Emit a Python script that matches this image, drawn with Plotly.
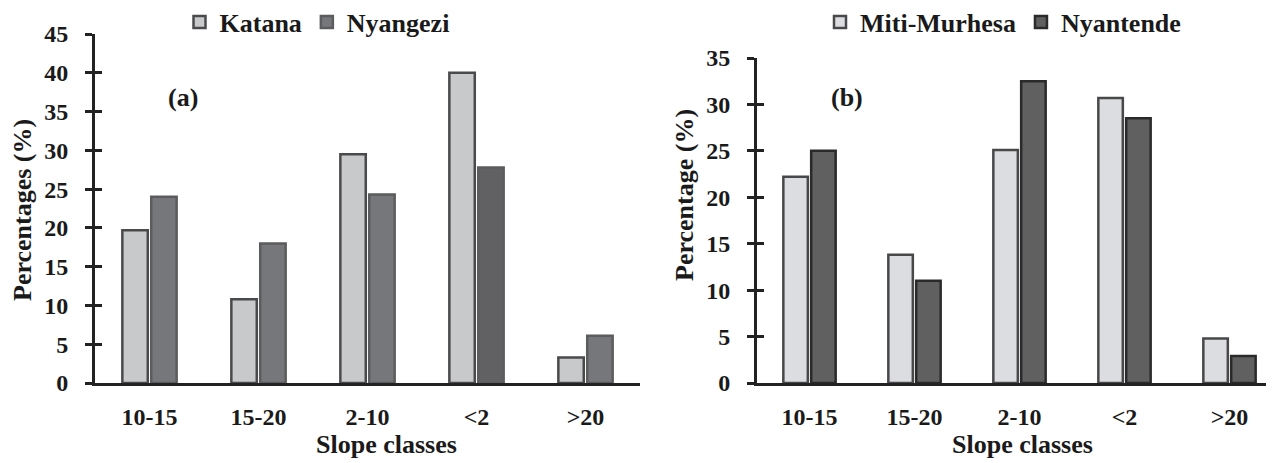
import plotly.graph_objects as go

categories = ["10-15", "15-20", "2-10", "<2", ">20"]
katana = [19.7, 10.8, 29.5, 40.0, 3.3]
nyangezi = [24.0, 18.0, 24.3, 27.8, 6.1]
miti = [22.2, 13.8, 25.1, 30.7, 4.8]
nyantende = [25.0, 11.0, 32.5, 28.5, 2.9]
ticks_a = [0, 5, 10, 15, 20, 25, 30, 35, 40, 45]
ticks_b = [0, 5, 10, 15, 20, 25, 30, 35]

W, H = 1274, 463
OFF = 8  # page body margin offset
FONT = "Liberation Serif, Times New Roman, serif"
def px(x): return (x - OFF) / W
def py(y): return (H - (y - OFF)) / H

fig = go.Figure()
nyangezi_colors = ["#76777b", "#76777b", "#76777b", "#616163", "#76777b"]
fig.add_trace(go.Bar(x=categories, y=katana, name="Katana", xaxis="x", yaxis="y",
                     marker=dict(color="#c8c9cb", line=dict(color="#4a4a4c", width=2.5)),
                     legend="legend"))
fig.add_trace(go.Bar(x=categories, y=nyangezi, name="Nyangezi", xaxis="x", yaxis="y",
                     marker=dict(color=nyangezi_colors, line=dict(color="#5c5c5e", width=2.5)),
                     legend="legend"))
fig.add_trace(go.Bar(x=categories, y=miti, name="Miti-Murhesa", xaxis="x2", yaxis="y2",
                     marker=dict(color="#dcdde0", line=dict(color="#48484a", width=2.5)),
                     legend="legend2"))
fig.add_trace(go.Bar(x=categories, y=nyantende, name="Nyantende", xaxis="x2", yaxis="y2",
                     marker=dict(color="#606060", line=dict(color="#2a2a2a", width=2.5)),
                     legend="legend2"))
# empty helper traces so the inner-tick overlay axes get drawn
fig.add_trace(go.Scatter(x=[None], y=[None], xaxis="x", yaxis="y3", showlegend=False,
                         hoverinfo="skip", mode="markers"))
fig.add_trace(go.Scatter(x=[None], y=[None], xaxis="x2", yaxis="y4", showlegend=False,
                         hoverinfo="skip", mode="markers"))

tickfont = dict(family=FONT, size=24, color="#1a1a1a", weight="bold")
common_x = dict(type="category", categoryorder="array", categoryarray=categories,
                showline=True, linecolor="#222222", linewidth=3, ticks="",
                showgrid=False, zeroline=False, tickfont=tickfont, ticklabelstandoff=10)
common_y = dict(showline=True, linecolor="#222222", linewidth=3, ticks="outside",
                ticklen=7, tickwidth=3, tickcolor="#222222", showgrid=False,
                zeroline=False, tickfont=tickfont, ticklabelstandoff=12)
inner_y = dict(ticks="inside", ticklen=7, tickwidth=3, tickcolor="#222222",
               showticklabels=False, showline=False, showgrid=False, zeroline=False,
               tickmode="array")

fig.update_layout(
    width=W, height=H,
    margin=dict(l=0, r=0, t=0, b=0, autoexpand=False),
    paper_bgcolor="white", plot_bgcolor="white",
    barmode="group", bargap=0.47, bargroupgap=0.12,
    showlegend=True,
    xaxis=dict(domain=[px(95), px(640)], anchor="y", **common_x),
    yaxis=dict(domain=[py(383), py(34)], anchor="x", range=[0, 45],
               tickmode="array", tickvals=ticks_a, **common_y),
    xaxis2=dict(domain=[px(757), px(1282)], anchor="y2", **common_x),
    yaxis2=dict(domain=[py(383), py(58)], anchor="x2", range=[0, 35],
                tickmode="array", tickvals=ticks_b, **common_y),
    yaxis3=dict(overlaying="y", anchor="x", range=[0, 45], tickvals=ticks_a, **inner_y),
    yaxis4=dict(overlaying="y2", anchor="x2", range=[0, 35], tickvals=ticks_b, **inner_y),
    legend=dict(orientation="h", x=px(317), y=py(22), xanchor="center", yanchor="middle",
                font=dict(family=FONT, size=26, color="#1a1a1a", weight="bold"),
                bgcolor="rgba(0,0,0,0)", itemwidth=30, tracegroupgap=0),
    legend2=dict(orientation="h", x=px(1003), y=py(22), xanchor="center", yanchor="middle",
                 font=dict(family=FONT, size=26, color="#1a1a1a", weight="bold"),
                 bgcolor="rgba(0,0,0,0)", itemwidth=30, tracegroupgap=0),
)

ann_font = dict(family=FONT, size=26, color="#1a1a1a", weight="bold")
annotations = [
    dict(text="Percentages (%)", x=px(22), y=py(210), textangle=-90),
    dict(text="Percentage (%)", x=px(684), y=py(195), textangle=-90),
    dict(text="Slope classes", x=px(386), y=py(444)),
    dict(text="Slope classes", x=px(1022), y=py(444)),
    dict(text="(a)", x=px(183), y=py(97)),
    dict(text="(b)", x=px(847), y=py(97)),
]
for a in annotations:
    fig.add_annotation(xref="paper", yref="paper", showarrow=False,
                       xanchor="center", yanchor="middle", font=ann_font, **a)

fig.write_html("out.html")
